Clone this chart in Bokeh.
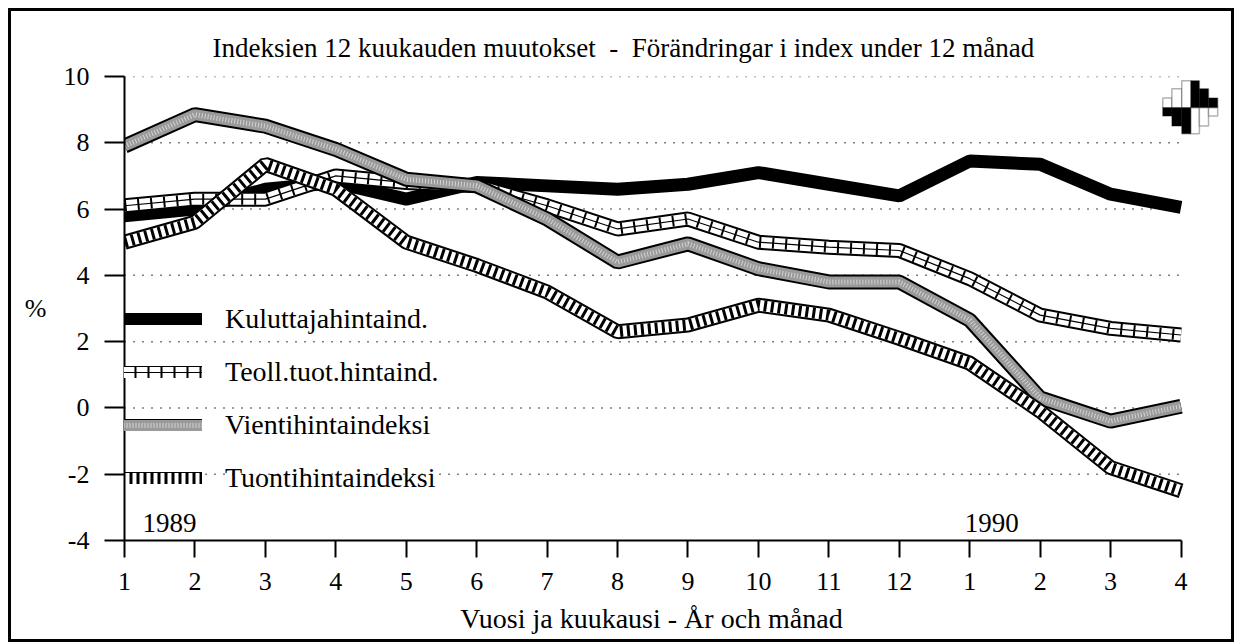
from bokeh.plotting import figure
from bokeh.models import Range1d, Label, Legend, LegendItem, FixedTicker, Title, BoxAnnotation
from bokeh.embed import file_html
from bokeh.resources import INLINE

# ---- data ----
months = list(range(1, 17))
month_labels = ["1", "2", "3", "4", "5", "6", "7", "8", "9", "10", "11", "12", "1", "2", "3", "4"]
kuluttaja = [5.8, 6.0, 6.6, 6.8, 6.3, 6.8, 6.7, 6.6, 6.75, 7.1, 6.75, 6.4, 7.45, 7.35, 6.45, 6.05]
teoll = [6.1, 6.3, 6.3, 7.0, 6.8, 6.7, 6.1, 5.4, 5.7, 5.0, 4.85, 4.75, 3.9, 2.8, 2.4, 2.2]
vienti = [7.9, 8.85, 8.5, 7.8, 6.9, 6.7, 5.7, 4.4, 4.95, 4.2, 3.8, 3.8, 2.65, 0.3, -0.4, 0.05]
tuonti = [5.0, 5.6, 7.35, 6.6, 5.0, 4.3, 3.5, 2.3, 2.5, 3.1, 2.8, 2.1, 1.35, -0.1, -1.8, -2.5]
y_ticks = [-4, -2, 0, 2, 4, 6, 8, 10]
series_names = ["Kuluttajahintaind.", "Teoll.tuot.hintaind.", "Vientihintaindeksi", "Tuontihintaindeksi"]
title_text = "Indeksien 12 kuukauden muutokset \u00a0-\u00a0 Förändringar i index under 12 månad"
x_title = "Vuosi ja kuukausi - År och månad"
y_title = "%"

FONT = "Liberation Serif"

# the x range runs a little past the last month to leave room for the emblem
p = figure(width=1226, height=634, output_backend="svg", toolbar_location=None,
           x_range=Range1d(1, 16.56), y_range=Range1d(-4, 10),
           min_border_left=113, min_border_right=17, min_border_top=65, min_border_bottom=105)
p.styles = {"border": "3px solid black", "margin-left": "8px", "margin-top": "8px"}
p.outline_line_color = None
p.background_fill_color = "white"

# title
p.title = Title(text=title_text, align="left", offset=88, standoff=27,
                text_font=FONT, text_font_size="27px", text_font_style="normal",
                text_color="black")

# axes
p.xaxis.ticker = FixedTicker(ticks=months)
p.xaxis.bounds = (months[0], months[-1])
p.xaxis.major_label_overrides = {m: l for m, l in zip(months, month_labels)}
p.yaxis.ticker = FixedTicker(ticks=y_ticks)
p.yaxis.major_label_overrides = {t: str(t) for t in y_ticks}
for ax in (p.xaxis[0], p.yaxis[0]):
    ax.axis_line_color = "black"
    ax.axis_line_width = 2
    ax.major_tick_line_color = "black"
    ax.major_tick_line_width = 2
    ax.major_tick_in = 0
    ax.minor_tick_line_color = None
    ax.major_label_text_font = FONT
    ax.major_label_text_font_size = "26px"
    ax.major_label_text_color = "black"
    ax.axis_label_text_font = FONT
    ax.axis_label_text_font_style = "normal"
    ax.axis_label_text_color = "black"
p.xaxis.major_tick_out = 17
p.xaxis.major_label_standoff = 15
# trailing no-break spaces keep the label centred under the months, not the emblem margin
p.xaxis.axis_label = x_title + "\u00a0" * 6
p.xaxis.axis_label_text_font_size = "28px"
p.xaxis.axis_label_standoff = 10
p.yaxis.major_tick_out = 20
p.yaxis.major_label_standoff = 15
p.yaxis.axis_label = y_title
p.yaxis.axis_label_orientation = "horizontal"
p.yaxis.axis_label_text_font_size = "26px"
p.yaxis.axis_label_standoff = 14

# dotted horizontal grid, only across the months
p.xgrid.grid_line_color = None
p.ygrid.grid_line_color = None
grid_y = y_ticks[1:]
p.segment(x0=[months[0]] * len(grid_y), y0=grid_y, x1=[months[-1]] * len(grid_y), y1=grid_y,
          line_color="black", line_width=1.5, line_dash="1 8")

# series
r_k = p.line(months, kuluttaja, line_color="black", line_width=13)

r_t_out = p.line(months, teoll, line_color="black", line_width=15)
r_t_in = p.line(months, teoll, line_color="white", line_width=11)
r_t_c = p.line(months, teoll, line_color="black", line_width=1.2)
r_t_d = p.line(months, teoll, line_color="black", line_width=11, line_dash="2 11")

r_v_out = p.line(months, vienti, line_color="black", line_width=15)
r_v_in = p.line(months, vienti, line_color="#9a9a9a", line_width=11)
r_v_d = p.line(months, vienti, line_color="#d4d4d4", line_width=5, line_dash="1 2")

r_u_out = p.line(months, tuonti, line_color="black", line_width=15)
r_u_in = p.line(months, tuonti, line_color="white", line_width=11)
r_u_d = p.line(months, tuonti, line_color="black", line_width=11, line_dash="3 4")

legend = Legend(items=[
    LegendItem(label=series_names[0], renderers=[r_k]),
    LegendItem(label=series_names[1], renderers=[r_t_out, r_t_in, r_t_c, r_t_d]),
    LegendItem(label=series_names[2], renderers=[r_v_out, r_v_in, r_v_d]),
    LegendItem(label=series_names[3], renderers=[r_u_out, r_u_in, r_u_d]),
], location=(-16, 46), orientation="vertical")
legend.glyph_width = 94
legend.glyph_height = 12
legend.label_height = 32
legend.spacing = 21
legend.padding = 0
legend.margin = 0
legend.label_standoff = 23
legend.label_text_font = FONT
legend.label_text_font_size = "28px"
legend.label_text_color = "black"
legend.border_line_alpha = 0
legend.background_fill_alpha = 0
legend.click_policy = "none"
p.add_layout(legend, "center")

# year labels inside the frame
for yx, dx, txt in [(1, 18, "1989"), (13, -5, "1990")]:
    p.add_layout(Label(x=yx, y=-4, x_offset=dx, y_offset=18, text=txt,
                       text_align="left", text_baseline="middle",
                       text_font=FONT, text_font_size="27px", text_color="black"))

# small emblem in the upper right corner (decoration, in axis units)
emblem_cols = [(15.74, 15.87, 9.35, 8.81), (15.87, 16.01, 9.63, 8.51), (16.01, 16.14, 9.87, 8.27),
               (16.14, 16.26, 9.87, 8.27), (16.26, 16.39, 9.63, 8.51), (16.39, 16.52, 9.35, 8.81)]
emblem_mid = 9.06
for i, (l, r, t, b) in enumerate(emblem_cols):
    top_col, bot_col = ("white", "black") if i < 3 else ("black", "white")
    p.add_layout(BoxAnnotation(left=l, right=r, top=t, bottom=emblem_mid, fill_color=top_col,
                               fill_alpha=1, line_color="black", line_width=1.5, level="overlay"))
    p.add_layout(BoxAnnotation(left=l, right=r, top=emblem_mid, bottom=b, fill_color=bot_col,
                               fill_alpha=1, line_color="black", line_width=1.5, level="overlay"))

open("out.html", "w").write(file_html(p, INLINE))
